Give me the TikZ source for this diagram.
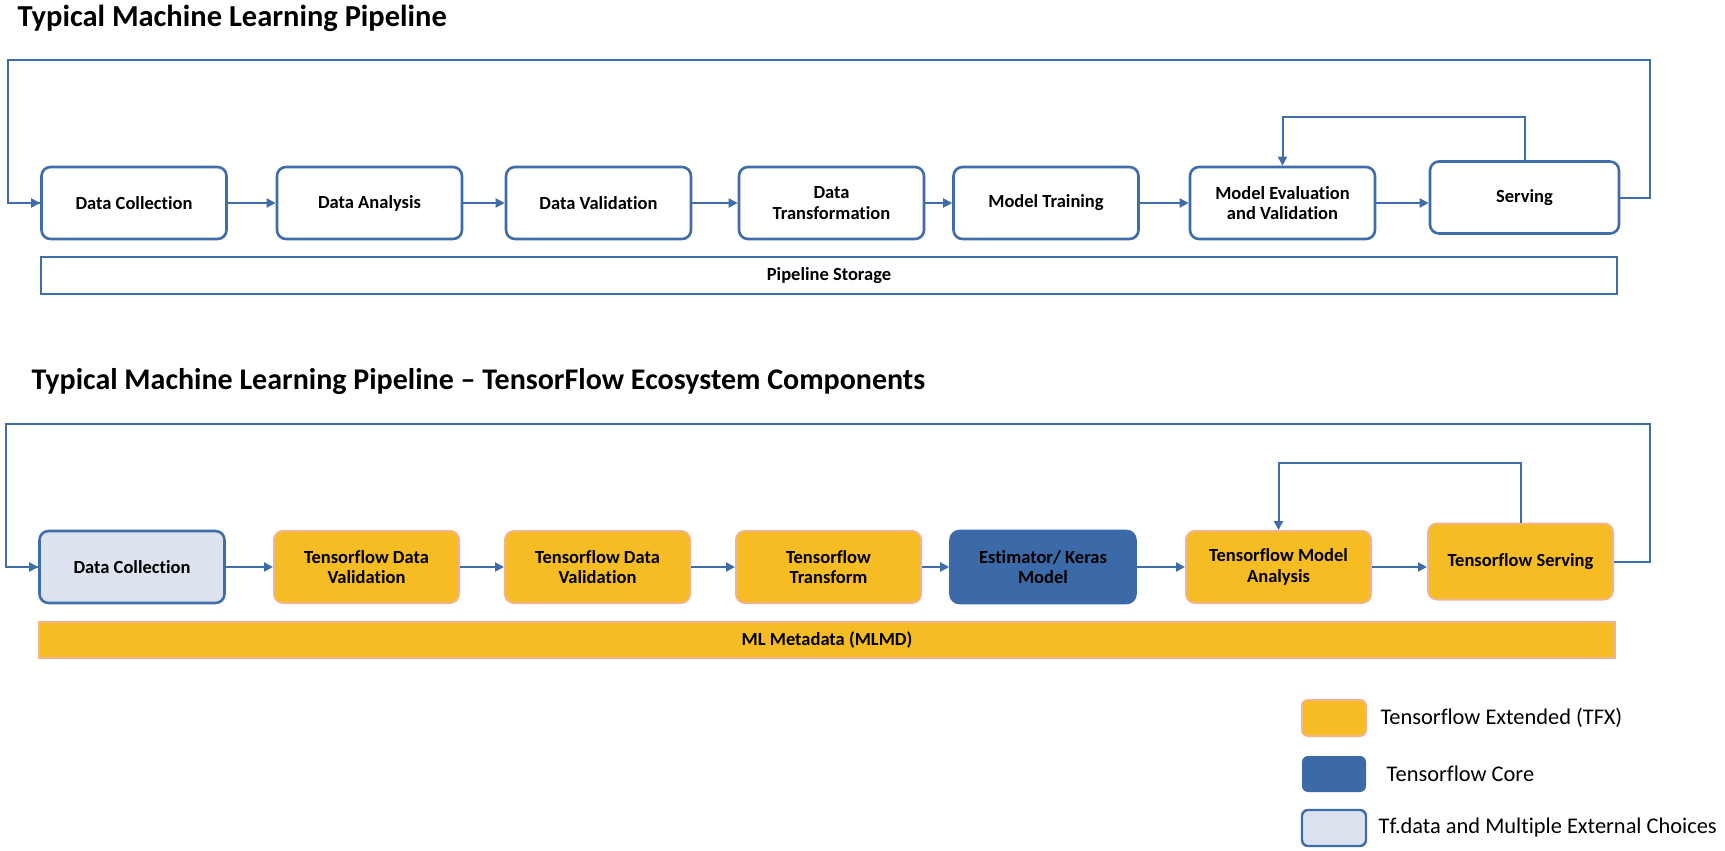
\documentclass[tikz,border=0pt]{standalone}
\usepackage{fontspec}
\setmainfont[Ligatures=NoCommon]{Carlito}
\usetikzlibrary{calc,arrows.meta}

\definecolor{lineblue}{HTML}{3E6DAA}
\definecolor{tfxgold}{HTML}{F6BC23}
\definecolor{tfxrim}{HTML}{F2B48A}
\definecolor{coreblue}{HTML}{3C69A8}
\definecolor{extfill}{HTML}{DCE3EE}

\begin{document}
\begin{tikzpicture}[x=1pt, y=-1pt,
    stage/.style={draw=lineblue, line width=2.6pt, rounded corners=9pt, fill=white,
        minimum width=185pt, minimum height=72pt, align=center,
        font=\fontsize{18.5}{20.5}\selectfont\bfseries},
    tfx/.style={stage, draw=tfxrim, fill=tfxgold, line width=2pt},
    core/.style={stage, draw=coreblue, fill=coreblue, text=black},
    ext/.style={stage, fill=extfill},
    flow/.style={draw=lineblue, line width=2pt, -{Triangle[length=9pt, width=9pt]}},
    loop/.style={draw=lineblue, line width=2pt},
    heading/.style={anchor=west, font=\fontsize{30.5}{34}\selectfont\bfseries},
    key/.style={rounded corners=6pt, minimum width=64pt, minimum height=36pt},
    keytext/.style={anchor=west, font=\fontsize{22.4}{26}\selectfont}]
    \useasboundingbox (0, 0) rectangle (1725, 851);

    \node [heading] (T1) at (14, 18) {Typical Machine Learning Pipeline};
        \node [stage] (DC) at (134, 203) {Data Collection};
        \node [stage] (DA) at ($(DC) + (235.5, 0)$) {Data Analysis};
        \node [stage] (DV) at ($(DA) + (229, 0)$) {Data Validation};
        \node [stage] (DT) at ($(DV) + (233, 0)$) {Data\\Transformation};
        \node [stage] (MT) at ($(DT) + (214.5, 0)$) {Model Training};
        \node [stage] (ME) at ($(MT) + (236.5, 0)$) {Model Evaluation\\and Validation};
        \node [stage, minimum width=189pt] (SV) at ($(ME) + (242, -5.5)$) {Serving};
    \node [stage, rounded corners=0pt, minimum width=1576pt, minimum height=37pt] (PS) at (829, 275.5) {Pipeline Storage};

    \draw [flow] (DC) -- (DA);
    \draw [flow] (DA) -- (DV);
    \draw [flow] (DV) -- (DT);
    \draw [flow] (DT) -- (MT);
    \draw [flow] (MT) -- (ME);
    \draw [flow] (ME.east) -- (ME.east -| SV.west);
    \coordinate (L1) at (7.7, 60.5);
    \coordinate (R1) at (1650, 60.5);
    \draw [loop] (SV.east) -| (R1) -- (L1) |- (DC.west);
    \draw [flow] (DC.west -| L1) -- (DC.west);
    \coordinate (I1) at ($(SV.north) + (0, -43)$);
    \draw [flow] (SV.north) -- (I1) -| (ME.north);

    \node [heading, font=\fontsize{30}{34}\selectfont\bfseries] (T2) at (28, 382) {Typical Machine Learning Pipeline -- TensorFlow Ecosystem Components};
        \node [ext] (DC2) at (132, 567) {Data Collection};
        \node [tfx] (TDV) at ($(DC2) + (234.5, 0)$) {Tensorflow Data\\Validation};
        \node [tfx] (TDV2) at ($(TDV) + (231, 0)$) {Tensorflow Data\\Validation};
        \node [tfx] (TT) at ($(TDV2) + (231, 0)$) {Tensorflow\\Transform};
        \node [core] (EK) at ($(TT) + (214.5, 0)$) {Estimator/ Keras\\Model};
        \node [tfx] (TMA) at ($(EK) + (235.5, 0)$) {Tensorflow Model\\Analysis};
        \node [tfx, minimum height=76pt] (TS) at ($(TMA) + (242, -5.5)$) {Tensorflow Serving};
    \node [tfx, rounded corners=0pt, minimum width=1576pt, minimum height=36pt] (MD) at (827, 640) {ML Metadata (MLMD)};

    \draw [flow] (DC2) -- (TDV);
    \draw [flow] (TDV) -- (TDV2);
    \draw [flow] (TDV2) -- (TT);
    \draw [flow] (TT) -- (EK);
    \draw [flow] (EK) -- (TMA);
    \draw [flow] (TMA.east) -- (TMA.east -| TS.west);
    \coordinate (L2) at (5.5, 423.5);
    \coordinate (R2) at (1650, 423.5);
    \draw [loop] (TS.east) -| (R2) -- (L2) |- (DC2.west);
    \draw [flow] (DC2.west -| L2) -- (DC2.west);
    \coordinate (I2) at ($(TS.north) + (0, -60)$);
    \draw [flow] (TS.north) -- (I2) -| (TMA.north);

    \node [key, draw=tfxrim, line width=2pt, fill=tfxgold] (K1) at (1334, 718) {};
    \node [keytext] (K1T) at ($(K1.east) + (10, 0)$) {Tensorflow Extended (TFX)};
    \node [key, fill=coreblue] (K2) at (1334, 774) {};
    \node [keytext] (K2T) at ($(K2.east) + (17, 0)$) {Tensorflow Core};
    \node [key, draw=lineblue, line width=2.4pt, fill=extfill] (K3) at (1334, 828) {};
    \node [keytext] (K3T) at ($(K3.east) + (8, 0)$) {Tf.data and Multiple External Choices};
\end{tikzpicture}
\end{document}
